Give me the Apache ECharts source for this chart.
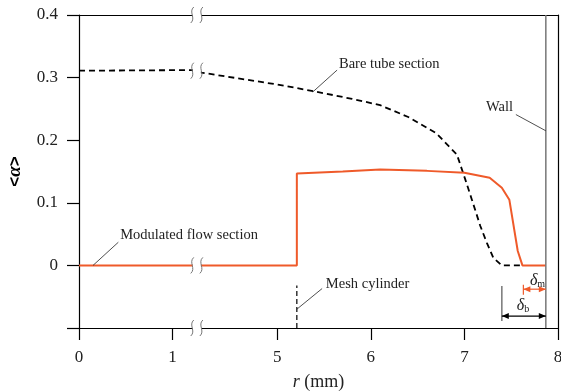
<!DOCTYPE html>
<html><head><meta charset="utf-8">
<script src="https://cdn.jsdelivr.net/npm/echarts@6/dist/echarts.min.js"></script>
<style>html,body{margin:0;padding:0;background:#fff}#c{width:561px;height:392px}</style>
</head><body><div id="c"></div>
<script>
// ---- data ----
const bareX = [0, 1.21, 4.19, 5.0, 5.4, 5.8, 6.1, 6.4, 6.7, 6.92, 7.01, 7.08, 7.17, 7.24, 7.31, 7.40, 7.61];
const bareY = [0.311, 0.312, 0.308, 0.289, 0.278, 0.266, 0.256, 0.237, 0.211, 0.177, 0.137, 0.105, 0.063, 0.036, 0.012, 0.0, 0.0];
const modX = [0, 1.21, 4.19, 5.21, 5.21, 5.7, 6.1, 6.6, 7.0, 7.27, 7.40, 7.48, 7.57, 7.62, 7.87];
const modY = [0, 0, 0, 0, 0.147, 0.150, 0.153, 0.151, 0.148, 0.140, 0.124, 0.105, 0.023, 0, 0];
const xTickValues = [0, 1, 5, 6, 7, 8];
const yTickLabels = ['0', '0.1', '0.2', '0.3', '0.4'];
const breakStart = 1.21, breakEnd = 4.19;
const wallR = 7.87, meshR = 5.21, deltaMStart = 7.63, deltaBStart = 7.40;
const breakMarkY = [0.4, 0.311, 0, -0.1];

const F = '"Liberation Serif"';
const chart = echarts.init(document.getElementById('c'), null, {renderer: 'canvas'});
const zip = (a, b) => a.map((v, i) => [v, b[i]]);

const breakCfg = {
  breaks: [{start: breakStart, end: breakEnd, gap: '1.9%'}],
  breakArea: {show: false, expandOnClick: false}
};

function renderAnno(params, api) {
  const c = (x, y) => api.coord([x, y]);
  const els = [];
  const line = (a, b, stroke, w, dash) => {
    const p = c(a[0], a[1]), q = c(b[0], b[1]);
    els.push({type: 'line', shape: {x1: p[0], y1: p[1], x2: q[0], y2: q[1]}, style: {stroke: stroke, lineWidth: w, lineDash: dash || null}});
  };
  const text = (x, y, t, align, extra) => {
    const p = c(x, y);
    els.push({type: 'text', x: p[0], y: p[1], style: Object.assign({text: t, fill: '#222', font: '14.5px ' + F, align: align || 'left', verticalAlign: 'middle'}, extra || {})});
  };
  const arrow = (xa, xb, y, color) => {
    const p = c(xa, y), q = c(xb, y);
    els.push({type: 'line', shape: {x1: p[0], y1: p[1], x2: q[0], y2: q[1]}, style: {stroke: color, lineWidth: 1.2}});
    els.push({type: 'polygon', shape: {points: [[p[0], p[1]], [p[0] + 7, p[1] - 3], [p[0] + 7, p[1] + 3]]}, style: {fill: color}});
    els.push({type: 'polygon', shape: {points: [[q[0], q[1]], [q[0] - 7, q[1] - 3], [q[0] - 7, q[1] + 3]]}, style: {fill: color}});
  };
  // wall
  line([wallR, -0.1], [wallR, 0.4], '#777', 1.5);
  // mesh cylinder
  line([meshR, -0.1], [meshR, -0.032], '#000', 1.2, [5, 3]);
  // leaders and texts
  line([5.38, 0.277], [5.64, 0.312], '#222', 0.8);
  text(5.66, 0.322, 'Bare tube section');
  line([7.55, 0.241], [wallR, 0.215], '#222', 0.8);
  text(7.52, 0.252, 'Wall', 'right');
  line([0.15, 0], [0.42, 0.037], '#222', 0.8);
  text(0.44, 0.048, 'Modulated flow section');
  line([meshR, -0.070], [5.48, -0.037], '#222', 0.8);
  text(5.52, -0.030, 'Mesh cylinder');
  // delta m
  line([deltaMStart, -0.031], [deltaMStart, -0.047], '#ef5a2a', 1.2);
  arrow(deltaMStart, wallR, -0.038, '#ef5a2a');
  text(7.70, -0.025, '{d|δ}{s|m}', 'left', {rich: {d: {font: 'italic 16px ' + F, fill: '#222'}, s: {font: '10px ' + F, fill: '#222', padding: [7, 0, 0, 0]}}});
  // delta b
  line([deltaBStart, -0.033], [deltaBStart, -0.089], '#777', 1.5);
  arrow(deltaBStart, wallR, -0.081, '#000');
  text(7.56, -0.064, '{d|δ}{s|b}', 'left', {rich: {d: {font: 'italic 16px ' + F, fill: '#222'}, s: {font: '10px ' + F, fill: '#222', padding: [7, 0, 0, 0]}}});
  return {type: 'group', children: els};
}

function renderBreaks(params, api) {
  const els = [];
  const top = api.coord([breakStart, 0.4]), bot = api.coord([breakEnd, -0.1]);
  els.push({type: 'rect', shape: {x: top[0] + 0.5, y: top[1] - 2, width: bot[0] - top[0] - 1, height: bot[1] - top[1] + 4}, style: {fill: '#fff'}});
  breakMarkY.forEach(y => {
    [breakStart, breakEnd].forEach(x => {
      const p = api.coord([x, y]);
      els.push({type: 'bezierCurve', shape: {x1: p[0] + 1.5, y1: p[1] - 8, x2: p[0] - 1.5, y2: p[1] + 8, cpx1: p[0] - 4, cpy1: p[1] - 3, cpx2: p[0] + 4, cpy2: p[1] + 3}, style: {stroke: '#777', lineWidth: 1, fill: null}});
    });
  });
  return {type: 'group', children: els};
}

const option = {
  animation: false,
  backgroundColor: '#fff',
  grid: {left: 79, right: 3, top: 15, bottom: 64, containLabel: false, outerBoundsMode: 'none'},
  xAxis: [
    Object.assign({
      type: 'value', min: 0, max: 8, position: 'bottom',
      axisLine: {show: true, onZero: false, lineStyle: {color: '#000', width: 1.2}},
      axisTick: {show: true, customValues: xTickValues, length: 12, inside: false, lineStyle: {color: '#000', width: 1.2}},
      axisLabel: {show: true, customValues: xTickValues, margin: 21, fontFamily: F, fontSize: 17, color: '#222'},
      splitLine: {show: false},
      name: '{i|r} (mm)', nameLocation: 'middle', nameGap: 45,
      nameTextStyle: {fontFamily: F, fontSize: 18, color: '#222', rich: {i: {fontFamily: F, fontStyle: 'italic', fontSize: 18, color: '#222'}}}
    }, breakCfg),
    Object.assign({
      type: 'value', min: 0, max: 8, position: 'top',
      axisLine: {show: true, onZero: false, lineStyle: {color: '#000', width: 1.2}},
      axisTick: {show: false}, axisLabel: {show: false}, splitLine: {show: false}
    }, breakCfg)
  ],
  yAxis: [
    {
      type: 'value', min: -0.1, max: 0.4, interval: 0.1, position: 'left',
      axisLine: {show: true, onZero: false, lineStyle: {color: '#000', width: 1.2}},
      axisTick: {show: true, length: 12, inside: false, lineStyle: {color: '#000', width: 1.2}},
      axisLabel: {margin: 21, fontFamily: F, fontSize: 17, color: '#222',
        formatter: v => { const i = Math.round(v * 10); return i < 0 ? '' : yTickLabels[i]; }},
      splitLine: {show: false},
      name: '{a|<}{b|α}{a|>}', nameLocation: 'middle', nameGap: 54, nameRotate: 90,
      nameTextStyle: {rich: {a: {fontFamily: '"Liberation Sans"', fontWeight: 'bold', fontSize: 17, color: '#000'}, b: {fontFamily: F, fontWeight: 'bold', fontStyle: 'italic', fontSize: 19, color: '#000'}}}
    },
    {
      type: 'value', min: -0.1, max: 0.4, position: 'right',
      axisLine: {show: true, onZero: false, lineStyle: {color: '#000', width: 1.2}},
      axisTick: {show: false}, axisLabel: {show: false}, splitLine: {show: false}
    }
  ],
  series: [
    {type: 'line', data: zip(bareX, bareY), symbol: 'none', z: 3,
      lineStyle: {color: '#000', width: 1.8, type: [6, 4]}},
    {type: 'line', data: zip(modX, modY), symbol: 'none', z: 3,
      lineStyle: {color: '#ef5a2a', width: 2}},
    {type: 'custom', data: [[0, 0]], clip: false, z: 20, silent: true, renderItem: renderBreaks},
    {type: 'custom', data: [[0, 0]], clip: false, z: 30, silent: true, renderItem: renderAnno}
  ]
};
chart.setOption(option);
</script>
</body></html>
